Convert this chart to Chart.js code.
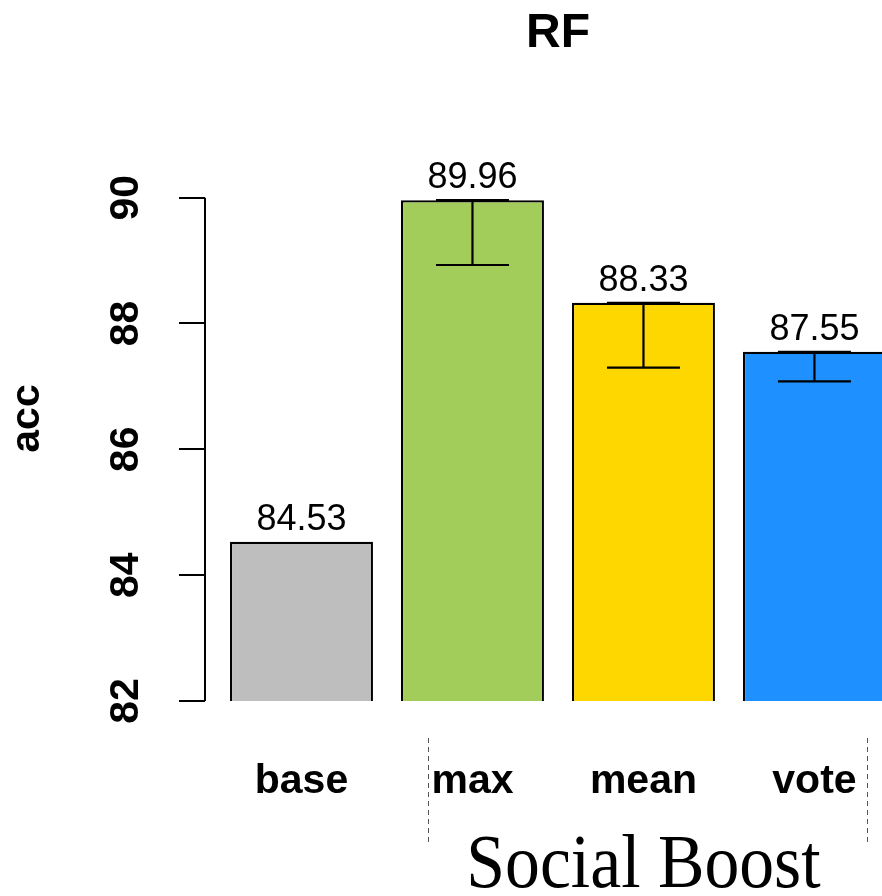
<!DOCTYPE html>
<html><head><meta charset="utf-8">
<script src="https://cdn.jsdelivr.net/npm/chart.js@4"></script>
<style>html,body{margin:0;padding:0;background:#fff;overflow:hidden}canvas{display:block}</style>
</head><body>
<canvas id="c" width="882" height="896"></canvas>
<script>
const chartTitle = 'RF';
const categories = ['base', 'max', 'mean', 'vote'];
const accValues = [84.53, 89.96, 88.33, 87.55];
const errLower = [null, 88.93, 87.30, 87.08];
const barColors = ['#BEBEBE', '#A2CD5A', '#FFD700', '#1E90FF'];
const yTicks = [82, 84, 86, 88, 90];
const yLabel = 'acc';
const groupLabel = 'Social Boost';
const groupSpan = [1.74, 4.31];
const yRange = [82, 90.98];
const xRange = [0.4357, 4.395];

const SANS = '"Liberation Sans", Arial, Helvetica, sans-serif';

const overlay = {
  id: 'overlay',
  afterDatasetsDraw(chart) {
    const ctx = chart.ctx, x = chart.scales.x, y = chart.scales.y;
    const line = (x1, y1, x2, y2) => { ctx.beginPath(); ctx.moveTo(x1, y1); ctx.lineTo(x2, y2); ctx.stroke(); };
    ctx.save();
    ctx.strokeStyle = '#000';
    ctx.lineWidth = 2;
    // y axis line spanning the tick range
    line(x.left, y.getPixelForValue(yTicks[0]), x.left, y.getPixelForValue(yTicks[yTicks.length - 1]));
    // error bars
    ctx.lineWidth = 2.2;
    const hw = 36.5;
    accValues.forEach((v, i) => {
      if (errLower[i] == null) return;
      const px = x.getPixelForValue(i + 1);
      const y1 = y.getPixelForValue(v), y2 = y.getPixelForValue(errLower[i]);
      line(px, y1, px, y2);
      line(px - hw, y1, px + hw, y1);
      line(px - hw, y2, px + hw, y2);
    });
    // value labels
    ctx.fillStyle = '#000';
    ctx.textAlign = 'center';
    ctx.textBaseline = 'alphabetic';
    ctx.font = '36px ' + SANS;
    accValues.forEach((v, i) => {
      ctx.fillText(v.toFixed(2), x.getPixelForValue(i + 1), y.getPixelForValue(v) - 12);
    });
    // title
    ctx.font = 'bold 48px ' + SANS;
    ctx.fillText(chartTitle, x.getPixelForValue((1 + categories.length) / 2), 47);
    // group bracket
    ctx.strokeStyle = '#555';
    ctx.lineWidth = 1;
    ctx.setLineDash([5, 4]);
    groupSpan.forEach(s => {
      const px = Math.round(x.getPixelForValue(s)) + 0.5;
      line(px, 738, px, 843);
    });
    ctx.setLineDash([]);
    // group label
    ctx.save();
    ctx.translate(x.getPixelForValue((2 + categories.length) / 2), 887);
    ctx.scale(0.917, 1);
    ctx.font = '76px "Liberation Serif", "Times New Roman", serif';
    ctx.fillText(groupLabel, 0, 0);
    ctx.restore();
    ctx.restore();
  }
};

new Chart(document.getElementById('c'), {
  type: 'bar',
  data: {
    datasets: [{
      data: accValues.map((v, i) => ({ x: i + 1, y: v })),
      backgroundColor: barColors,
      borderColor: '#000',
      borderWidth: 2.2,
      borderSkipped: false,
      categoryPercentage: 1,
      barPercentage: 0.836
    }]
  },
  options: {
    responsive: false,
    animation: false,
    devicePixelRatio: 1,
    layout: { padding: { top: 136, left: 0, right: 0, bottom: 0 } },
    plugins: { legend: { display: false }, title: { display: false }, tooltip: { enabled: false } },
    scales: {
      x: {
        type: 'linear',
        offset: false,
        min: xRange[0], max: xRange[1],
        grid: { display: true, drawOnChartArea: false, drawTicks: true, tickLength: 56, color: 'rgba(0,0,0,0)', offset: false },
        border: { display: false },
        afterBuildTicks: s => { s.ticks = categories.map((c, i) => ({ value: i + 1 })); },
        afterFit: s => { s.height = 195; },
        ticks: {
          autoSkip: false, maxRotation: 0, minRotation: 0, padding: 0, color: '#000',
          font: { family: SANS, weight: 'bold', size: 41 },
          callback: v => categories[v - 1]
        }
      },
      y: {
        min: yRange[0], max: yRange[1],
        afterBuildTicks: s => { s.ticks = yTicks.map(v => ({ value: v })); },
        afterFit: s => { s.width = 205; },
        grid: { drawOnChartArea: false, drawTicks: true, tickLength: 26, color: '#000', lineWidth: 2 },
        border: { display: false },
        ticks: {
          autoSkip: false, minRotation: 90, maxRotation: 90, crossAlign: 'center', padding: 30, color: '#000',
          font: { family: SANS, weight: 'bold', size: 41 }
        },
        title: {
          display: true, text: yLabel, color: '#000',
          font: { family: SANS, weight: 'bold', size: 41 },
          padding: { top: 3, bottom: 0 }
        }
      }
    }
  },
  plugins: [overlay]
});
</script>
</body></html>
